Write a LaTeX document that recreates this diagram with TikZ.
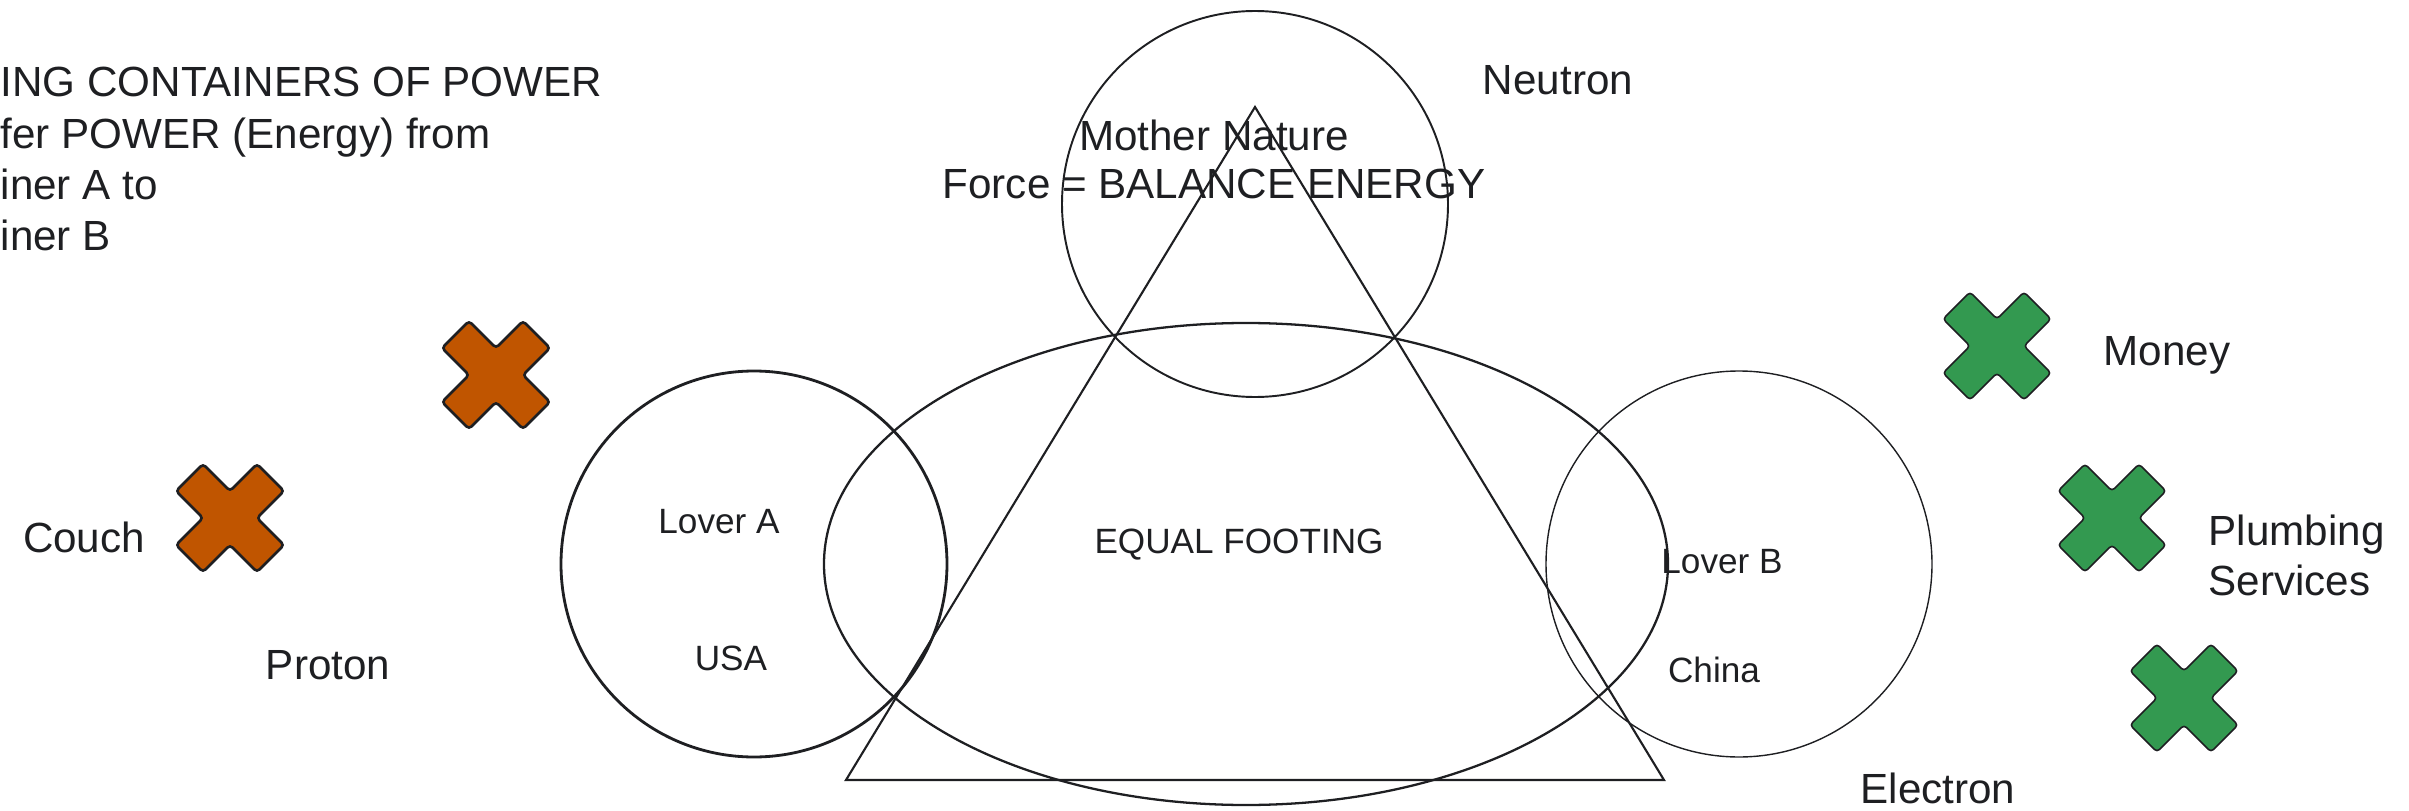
\documentclass[tikz,border=0pt]{standalone}
\usepackage{fontspec}
\setmainfont{Liberation Sans}
\definecolor{inkgray}{HTML}{1E1F22}
\definecolor{couchorange}{HTML}{C05500}
\definecolor{moneygreen}{HTML}{339950}
\tikzset{
  bigtext/.style={font=\fontsize{12}{14.4}\selectfont, text=inkgray, inner sep=0pt},
  smalltext/.style={font=\fontsize{10}{12}\selectfont, text=inkgray, inner sep=0pt},
  ring/.style={circle, draw=inkgray, minimum size=3.86cm, inner sep=0pt},
}

\begin{document}
\begin{tikzpicture}
  \useasboundingbox (0,0) rectangle (24.09,-8.11);
  % Heading (cut at the left edge)
  \node[bigtext, anchor=base west] (head1) at (0,-0.97) {ING CONTAINERS OF POWER};
  \node[bigtext, anchor=base west] (head2) at (0,-1.48) {fer POWER (Energy) from};
  \node[bigtext, anchor=base west] (head3) at (0,-1.99) {iner A to};
  \node[bigtext, anchor=base west] (head4) at (0,-2.50) {iner B};
  % Rings
  \node[ring, line width=0.8pt] (loverAring) at (7.54,-5.64) {};
  \node[ring, line width=0.55pt] (natring) at (12.55,-2.04) {};
  \node[ring, line width=0.4pt] (loverBring) at (17.39,-5.64) {};
  \draw[inkgray, line width=0.65pt] (12.46,-5.64) ellipse (4.22 and 2.41);
  \draw[inkgray, line width=0.6pt] (8.46,-7.80) -- (12.55,-1.07) -- (16.64,-7.80) -- cycle;
  % Labels
  \node[bigtext, anchor=base] (nature) at (12.14,-1.50) {Mother Nature};
  \node[bigtext, anchor=base] (force) at (12.14,-1.98) {Force = BALANCE ENERGY};
  \node[bigtext, anchor=base] (neutron) at (15.58,-0.95) {Neutron};
  \node[smalltext, anchor=base] (loverA) at (7.19,-5.33) {Lover A};
  \node[smalltext, anchor=base] (usa) at (7.31,-6.70) {USA};
  \node[smalltext, anchor=base] (footing) at (12.39,-5.53) {EQUAL FOOTING};
  \node[smalltext, anchor=base] (loverB) at (17.22,-5.73) {Lover B};
  \node[smalltext, anchor=base] (china) at (17.14,-6.82) {China};
  \node[bigtext, anchor=base] (couch) at (0.84,-5.52) {Couch};
  \node[bigtext, anchor=base] (proton) at (3.28,-6.79) {Proton};
  \node[bigtext, anchor=base west] (money) at (21.03,-3.65) {Money};
  \node[bigtext, anchor=base west] (plumbing) at (22.08,-5.45) {Plumbing};
  \node[bigtext, anchor=base west] (services) at (22.08,-5.95) {Services};
  \node[bigtext, anchor=base west] (electron) at (18.60,-8.03) {Electron};
  % Crosses
  \foreach \cx/\cy/\col/\lw in {4.96/-3.75/couchorange/0.75pt, 2.30/-5.18/couchorange/0.75pt,
      19.97/-3.46/moneygreen/0.45pt, 21.12/-5.18/moneygreen/0.45pt, 21.84/-6.98/moneygreen/0.45pt}
    \filldraw[fill=\col, draw=inkgray, line width=\lw, rounded corners=1pt, shift={(\cx,\cy)}]
      (0,0.27) -- (0.27,0.54) -- (0.54,0.27) -- (0.27,0) -- (0.54,-0.27) -- (0.27,-0.54)
      -- (0,-0.27) -- (-0.27,-0.54) -- (-0.54,-0.27) -- (-0.27,0) -- (-0.54,0.27) -- (-0.27,0.54) -- cycle;
\end{tikzpicture}
\end{document}
